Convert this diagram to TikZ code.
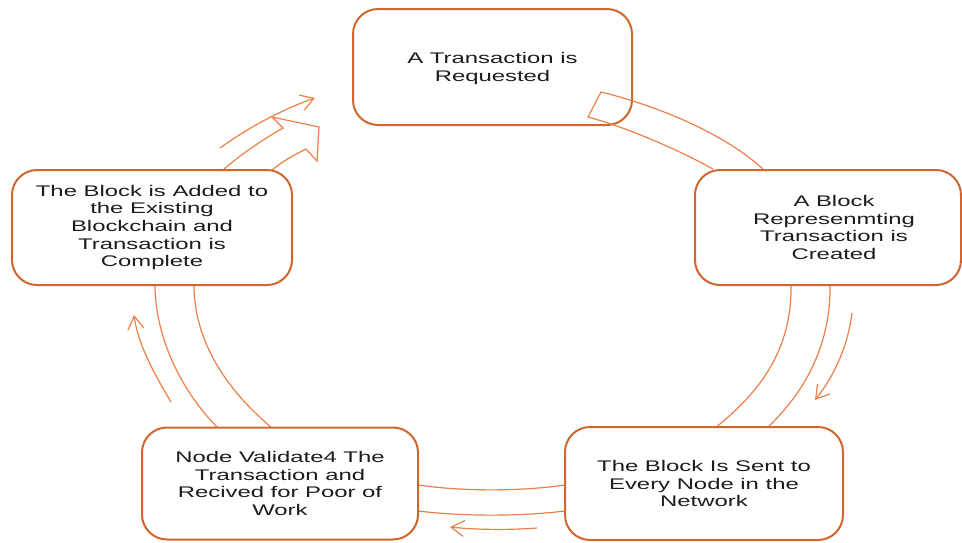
\documentclass[tikz,border=0pt]{standalone}
\usepackage{fontspec}
\setmainfont{Liberation Sans}[FakeStretch=1.55]
\usetikzlibrary{arrows.meta}
\definecolor{boxline}{RGB}{208,102,46}
\definecolor{flowline}{RGB}{236,128,72}
\definecolor{ink}{RGB}{28,28,28}
\begin{document}
\begin{tikzpicture}[x=1pt,y=-1pt,
  stage/.style={draw=boxline, line width=2pt, fill=white, rounded corners=25pt, inner sep=0pt},
  caption/.style={text=ink, align=center, font=\fontsize{15.4}{17.7}\selectfont, inner sep=0pt},
  band/.style={draw=flowline, line width=1.2pt},
  flow/.style={draw=flowline, line width=1.2pt, -{Straight Barb[length=13pt,width=16pt]}},
]
\useasboundingbox (0,0) rectangle (962,542);

% ribbon end points
\coordinate (r2a) at (791,285);  \coordinate (r2b) at (715,428);
\coordinate (r2c) at (830,285);  \coordinate (r2d) at (767,428);
\coordinate (r3a) at (565,485);  \coordinate (r3b) at (418,485);
\coordinate (r3c) at (565,511);  \coordinate (r3d) at (418,511);
\coordinate (r4a) at (218,428);  \coordinate (r4b) at (155,285);
\coordinate (r4c) at (272,428);  \coordinate (r4d) at (194,285);
\coordinate (r5a) at (223,170);  \coordinate (r5b) at (272,170);
\coordinate (r1a) at (763,169);  \coordinate (r1b) at (713,169);

% thin arrow end points
\coordinate (f2s) at (852,313);  \coordinate (f2e) at (815,400);
\coordinate (f3s) at (537,528);  \coordinate (f3e) at (450,527);
\coordinate (f4s) at (171,402);  \coordinate (f4e) at (134,315);
\coordinate (f5s) at (220,148);  \coordinate (f5e) at (315,98);

% ribbons running behind the boxes
\draw[band] (r2a) .. controls (792,350) and (760,392) .. (r2b);
\draw[band] (r2c) .. controls (831,350) and (800,397) .. (r2d);
\draw[band] (r3a) .. controls (520,491.5) and (463,491.5) .. (r3b);
\draw[band] (r3c) .. controls (520,516.5) and (463,516.5) .. (r3d);
\draw[band] (r4a) .. controls (180,390) and (155,335) .. (r4b);
\draw[band] (r4c) .. controls (215,380) and (194,330) .. (r4d);
\draw[band] (r5a) .. controls (240,155) and (262,140) .. (283,128)
  -- (272,117) -- (319,127) -- (317,161) -- (306,149)
  .. controls (294,155) and (283,161) .. (r5b);

% thin direction arrows
\draw[flow] (f2s) .. controls (848,345) and (835,375) .. (f2e);
\draw[flow] (f3s) .. controls (510,530) and (478,530) .. (f3e);
\draw[flow] (f4s) .. controls (155,375) and (138,345) .. (f4e);
\draw[flow] (f5s) .. controls (245,130) and (280,110) .. (f5e);

% stage boxes
\node[stage, minimum width=279pt, minimum height=116pt] (req)   at (492.5,67)  {};
\node[stage, minimum width=266pt, minimum height=115pt] (blk)   at (828,227.5) {};
\node[stage, minimum width=278pt, minimum height=113pt] (sent)  at (704,483.5) {};
\node[stage, minimum width=276pt, minimum height=112pt] (valid) at (280,483.5) {};
\node[stage, minimum width=280pt, minimum height=115pt] (added) at (152,227.5) {};

% ribbon whose tail lies over the first box
\draw[band] (r1a) .. controls (720,130) and (650,104) .. (601,92)
  -- (588,117) .. controls (625,127) and (675,148) .. (r1b);

% captions
\node[caption, yshift=-1.5pt] (req-t)   at (req.center)   {A Transaction is\\Requested};
\node[caption, xshift=6pt] (blk-t) at (blk.center) {A Block\\Represenmting\\Transaction is\\Created};
\node[caption] (sent-t)  at (sent.center)  {The Block Is Sent to\\Every Node in the\\Network};
\node[caption] (valid-t) at (valid.center) {Node Validate4 The\\Transaction and\\Recived for Poor of\\Work};
\node[caption] (added-t) at (added.center) {The Block is Added to\\the Existing\\Blockchain and\\Transaction is\\Complete};
\end{tikzpicture}
\end{document}
